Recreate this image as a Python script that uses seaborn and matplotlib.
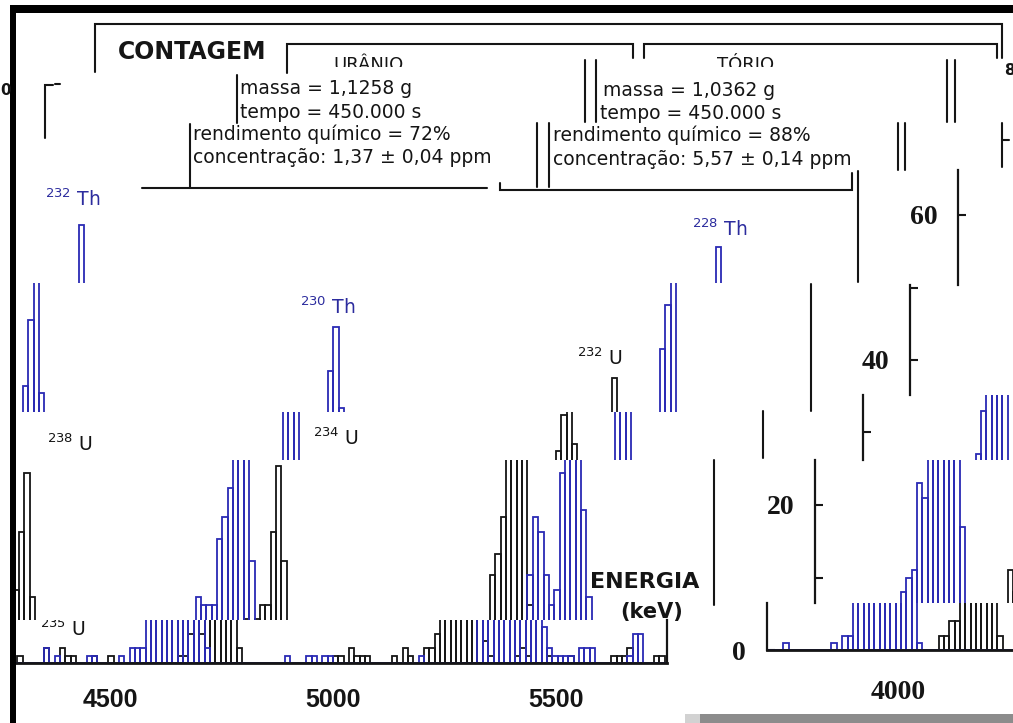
import numpy as np
import pandas as pd
import matplotlib
matplotlib.use("Agg")
import matplotlib.pyplot as plt
from matplotlib.lines import Line2D
from matplotlib.patches import Rectangle
from matplotlib.transforms import Bbox, TransformedBbox
import seaborn as sns

# ---------------------------------------------------------------- data
BIN_KEV = 12                      # channel width (keV)
BIN_FIRST, BIN_LAST = 3696, 5868  # spectrum range (keV)

# Uranium fraction (black) - left edge of each non-empty channel and counts
u_bin_kev = [4200, 4212, 4224, 4236, 4248, 4260, 4272, 4284, 4296, 4308, 4320, 4332,
             4404, 4464, 4500, 4512, 4524, 4572, 4608,
             4764, 4776, 4788, 4800, 4812, 4824, 4836, 4848, 4860, 4872, 4884, 4896,
             5112, 5124, 5148, 5160, 5172, 5184, 5244, 5268, 5280, 5316, 5328, 5340,
             5352, 5364, 5376, 5388, 5400, 5412, 5424, 5436, 5448, 5460,
             5520, 5532, 5544, 5592, 5640, 5736, 5748, 5760, 5772, 5828, 5840]
u_counts = [2, 2, 4, 4, 11, 8, 9, 10, 18, 26, 9, 2,
            1, 2, 2, 1, 1, 1, 1,
            1, 1, 4, 6, 4, 6, 8, 8, 18, 27, 14, 2,
            1, 1, 2, 1, 1, 1, 1, 2, 1, 2, 2, 4,
            12, 15, 20, 29, 34, 39, 30, 8, 3, 1,
            1, 2, 1, 1, 1, 1, 1, 1, 2, 1, 1]

# Thorium fraction (blue)
th_bin_kev = [3852, 3960, 3984, 3996, 4008, 4020, 4032, 4044, 4056, 4068, 4080, 4092,
              4104, 4116, 4128, 4140, 4152,
              4464, 4488, 4560, 4572, 4632, 4656, 4668, 4680,
              4692, 4704, 4716, 4728, 4740, 4752, 4764, 4776, 4788, 4800, 4812, 4824,
              5004, 5052, 5064, 5088, 5100, 5304,
              5436, 5448, 5460, 5472, 5484, 5496, 5508, 5520, 5532, 5544, 5556, 5568,
              5580, 5592, 5604, 5616, 5628, 5640, 5664, 5676, 5688, 5772, 5784, 5796]
th_counts = [1, 1, 2, 2, 8, 10, 11, 23, 21, 27, 33, 38,
             47, 60, 37, 17, 1,
             2, 1, 1, 1, 1, 2, 2, 2,
             9, 8, 8, 8, 17, 20, 24, 40, 46, 35, 14, 2,
             1, 1, 1, 1, 1, 1,
             12, 20, 18, 12, 8, 10, 26, 43, 49, 57, 21, 9,
             5, 2, 1, 1, 1, 1, 2, 2, 2, 1, 4, 4]

energy_ticks = [4500, 5000, 5500]
energy_ticks_inset = [4000]
count_ticks = [0, 10, 20, 30, 40, 50, 60]
count_tick_labels = {0: "0", 20: "20", 40: "40", 60: "60"}

uranio_info = ["massa = 1,1258 g", "tempo = 450.000 s",
               "rendimento químico = 72%", "concentração: 1,37 ± 0,04 ppm"]
torio_info = ["massa = 1,0362 g", "tempo = 450.000 s",
              "rendimento químico = 88%", "concentração: 5,57 ± 0,14 ppm"]

iso_th = ["$^{232}$ Th", "$^{230}$ Th", "$^{228}$ Th"]
iso_u = ["$^{238}$ U", "$^{234}$ U", "$^{232}$ U", "$^{235}$ U"]

# ---------------------------------------------------------------- style
sns.set_style("white")
plt.rcParams["font.family"] = ["DejaVu Sans"]
plt.rcParams["mathtext.fontset"] = "dejavusans"

BLACK = "#151515"
BLUE = "#2a2ab4"
LBLUE = "#2c2c9e"

W, H = 1013, 723
fig = plt.figure(figsize=(W / 100, H / 100), dpi=100)
fig.patch.set_facecolor("white")

KEV_PX = 0.446        # pixels per keV
CNT_PX_MAIN = 7.3     # pixels per count, main panel
CNT_PX_INSET = 7.25   # pixels per count, inset panel
BASE_MAIN = 663
BASE_INSET = 650

u_df = pd.DataFrame({"energia": np.asarray(u_bin_kev, dtype=float) + BIN_KEV / 2,
                     "contagem": np.asarray(u_counts, dtype=float)})
th_df = pd.DataFrame({"energia": np.asarray(th_bin_kev, dtype=float) + BIN_KEV / 2,
                      "contagem": np.asarray(th_counts, dtype=float)})


def fx(x):
    return x / W


def fy(y):
    return 1 - y / H


def px_axes(x0, y0, x1, y1):
    ax = fig.add_axes([x0 / W, 1 - y1 / H, (x1 - x0) / W, (y1 - y0) / H])
    ax.set_facecolor("none")
    return ax


def draw_spectra(ax):
    for df, col in ((u_df, BLACK), (th_df, BLUE)):
        sns.histplot(data=df, x="energia", weights="contagem", binwidth=BIN_KEV,
                     binrange=(BIN_FIRST, BIN_LAST), element="bars", fill=False,
                     color=col, linewidth=1.3, ax=ax)
    ax.set_xlabel("")
    ax.set_ylabel("")
    for s in ax.spines.values():
        s.set_visible(False)
    ax.set_xticks([])
    ax.set_yticks([])


# --------------------------------------------- main spectrum (tiled strips)
main_rows = [  # (y_top, y_bottom, x_right, horizontal offset) in pixels
    (620, 663, 667, -50),
    (460, 620, 705, 0),
    (412, 460, 755, 50),
    (283, 412, 805, 95),
    (190, 283, 855, 140),
]
axA = None
for i, (yt, yb, xr, sh) in enumerate(main_rows):
    ax = px_axes(15, yt, xr, yb)
    draw_spectra(ax)
    ax.set_xlim(4500 + (15 - 110 - sh) / KEV_PX, 4500 + (xr - 110 - sh) / KEV_PX)
    ax.set_ylim((BASE_MAIN - yb) / CNT_PX_MAIN, (BASE_MAIN - yt) / CNT_PX_MAIN)
    if i == 0:
        axA = ax
        for side, lw in (("bottom", 2.0), ("right", 1.6)):
            ax.spines[side].set_visible(True)
            ax.spines[side].set_color(BLACK)
            ax.spines[side].set_linewidth(lw)

# energy tick labels of the main panel
axT = px_axes(15, 663, 705, 664)
axT.set_xlim(4500 + (15 - 110) / KEV_PX, 4500 + (705 - 110) / KEV_PX)
axT.set_xticks(energy_ticks)
axT.set_xticklabels([str(t) for t in energy_ticks], fontfamily="Liberation Sans",
                    fontweight="bold", fontsize=18, color=BLACK)
axT.tick_params(axis="x", length=0, pad=17)
axT.set_yticks([])
for s in axT.spines.values():
    s.set_visible(False)

# --------------------------------------------- low-energy inset (tiled strips)
inset_rows = [  # (y_top, y_bottom, x_left)
    (603, 650, 767),
    (460, 603, 815),
    (395, 460, 863),
    (285, 395, 910),
    (170, 285, 958),
]
INSET_LEFT_KEV = 4080 + (767 - 885) / KEV_PX
for i, (yt, yb, xl) in enumerate(inset_rows):
    ax = px_axes(xl, yt, W, yb)
    draw_spectra(ax)
    ax.set_xlim(INSET_LEFT_KEV, INSET_LEFT_KEV + (W - xl) / KEV_PX)
    lo, hi = (BASE_INSET - yb) / CNT_PX_INSET, (BASE_INSET - yt) / CNT_PX_INSET
    ax.set_ylim(lo, hi)
    ticks = [t for t in count_ticks if lo - 1e-6 <= t <= hi]
    ax.set_yticks(ticks)
    ax.set_yticklabels([count_tick_labels.get(t, "") for t in ticks],
                       fontfamily="Liberation Serif", fontweight="bold", fontsize=20, color=BLACK)
    ax.tick_params(axis="y", direction="in", length=6, width=1.5, pad=15, left=True, colors=BLACK)
    ax.spines["left"].set_visible(True)
    ax.spines["left"].set_linewidth(1.6)
    ax.spines["left"].set_color(BLACK)
    if i == 0:
        ax.spines["bottom"].set_visible(True)
        ax.spines["bottom"].set_linewidth(2.0)
        ax.spines["bottom"].set_color(BLACK)

axT2 = px_axes(767, 650, W, 651)
axT2.set_xlim(4000 + (767 - 898) / KEV_PX, 4000 + (W - 898) / KEV_PX)
axT2.set_xticks(energy_ticks_inset)
axT2.set_xticklabels([str(t) for t in energy_ticks_inset], fontfamily="Liberation Serif",
                     fontweight="bold", fontsize=20, color=BLACK)
axT2.tick_params(axis="x", length=0, pad=21)
axT2.set_yticks([])
for s in axT2.spines.values():
    s.set_visible(False)

# --------------------------------------------- frame / bracket lines
frame_lines = [
    [(95, 72), (95, 24), (1002, 24), (1002, 58)],
    [(287, 73), (287, 44), (633, 44), (633, 58)],
    [(644, 58), (644, 44), (997, 44), (997, 58)],
    [(237, 75), (237, 123)],
    [(190, 124), (190, 188)],
    [(142, 188), (487, 188)],
    [(500, 183), (500, 190), (852, 190), (852, 173)],
    [(537, 123), (537, 187)], [(549, 123), (549, 187)],
    [(585, 60), (585, 122)], [(596, 60), (596, 122)],
    [(898, 123), (898, 170)], [(905, 123), (905, 170)],
    [(947, 60), (947, 122)], [(955, 60), (955, 122)],
    [(1002, 123), (1002, 167)], [(1002, 140), (1009, 140)],
    [(45, 138), (45, 85), (53, 85)], [(55, 84), (60, 84)],
    [(714, 460), (714, 605)], [(763, 411), (763, 458)],
    [(811, 284), (811, 411)], [(858, 171), (858, 282)],
]
for pts in frame_lines:
    fig.add_artist(Line2D([fx(p[0]) for p in pts], [fy(p[1]) for p in pts],
                          transform=fig.transFigure, color=BLACK, lw=1.5,
                          solid_joinstyle="miter"))

# thick outer border and grey scroll bar
fig.add_artist(Rectangle((fx(10), 0), 6 / W, fy(5), transform=fig.transFigure,
                         color="black", lw=0))
fig.add_artist(Rectangle((fx(10), fy(13)), (W - 10) / W, 8 / H, transform=fig.transFigure,
                         color="black", lw=0))
fig.add_artist(Rectangle((fx(685), 0), (W - 685) / W, 9 / H, transform=fig.transFigure,
                         color="#8c8c8c", lw=0))
fig.add_artist(Rectangle((fx(685), 0), 15 / W, 9 / H, transform=fig.transFigure,
                         color="#d2d2d2", lw=0))

# --------------------------------------------- texts
fig.text(fx(118), fy(59), "CONTAGEM", fontsize=17, fontweight="bold", color=BLACK)
fig.text(fx(0), fy(95), "0", fontsize=11, fontweight="bold", color=BLACK)
fig.text(fx(1004), fy(75), "8", fontsize=11, fontweight="bold", color=BLACK)

for s, x in (("URÂNIO", 333), ("TÓRIO", 717)):
    t = fig.text(fx(x), fy(70), s, fontsize=13, color=BLACK)
    t.set_clip_box(TransformedBbox(Bbox([[fx(x - 10), fy(67)], [fx(x + 200), fy(40)]]),
                                   fig.transFigure))
    t.set_clip_on(True)

info_pos_u = [(240, 94), (240, 118), (193, 140), (193, 163)]
info_pos_t = [(603, 96), (600, 119), (553, 141), (553, 165)]
for s, (x, y) in zip(uranio_info, info_pos_u):
    fig.text(fx(x), fy(y), s, fontsize=13.5, color=BLACK)
for s, (x, y) in zip(torio_info, info_pos_t):
    fig.text(fx(x), fy(y), s, fontsize=13.5, color=BLACK)

fig.text(fx(590), fy(588), "ENERGIA", fontsize=16, fontweight="bold", color=BLACK)
fig.text(fx(620), fy(618), "(keV)", fontsize=15, fontweight="bold", color=BLACK)

th_pos = [(45, 206), (300, 314), (692, 236)]
for s, (x, y) in zip(iso_th, th_pos):
    fig.text(fx(x), fy(y), s, fontsize=13.5, color=LBLUE)
u_pos = [(47, 451), (313, 445), (577, 365), (40, 636)]
for s, (x, y) in zip(iso_u, u_pos):
    t = fig.text(fx(x), fy(y), s, fontsize=13.5, color=BLACK)
    if s.endswith("235}$ U"):
        t.set_clip_box(axA.bbox)
        t.set_clip_on(True)

fig.savefig("out.png", dpi=100, facecolor="white")
